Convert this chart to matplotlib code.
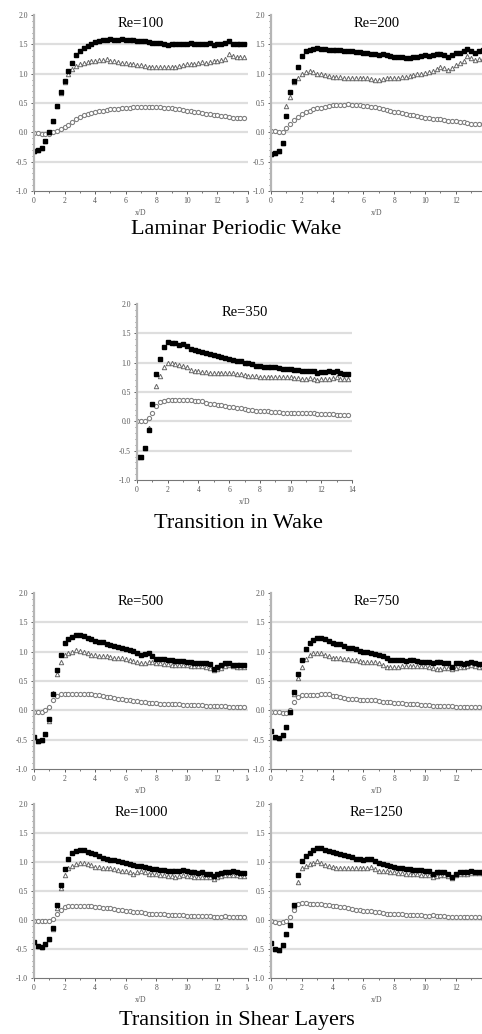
import numpy as np
import matplotlib
matplotlib.use("Agg")
import matplotlib.pyplot as plt
from matplotlib.ticker import MultipleLocator
from matplotlib.transforms import Bbox

plt.rcParams["font.family"] = ["Liberation Serif", "DejaVu Serif"]

# ---- データ（図から読み取り、x/D = 0, 0.25, ... 13.75） ----
x_d = np.arange(56) * 0.25

re100_black = [-0.31, -0.30, -0.26, -0.15, 0.00, 0.20, 0.45, 0.68, 0.88, 1.05, 1.19, 1.31, 1.39, 1.44,
               1.48, 1.51, 1.54, 1.56, 1.57, 1.58, 1.59, 1.58, 1.58, 1.59, 1.58, 1.58, 1.57, 1.56,
               1.56, 1.55, 1.54, 1.53, 1.53, 1.52, 1.51, 1.49, 1.50, 1.50, 1.51, 1.50, 1.51, 1.52,
               1.50, 1.51, 1.51, 1.50, 1.52, 1.49, 1.50, 1.51, 1.52, 1.56, 1.51, 1.50, 1.51, 1.51]
re100_tri = [-0.31, -0.30, -0.26, -0.15, 0.00, 0.20, 0.45, 0.67, 0.86, 0.99, 1.08, 1.13, 1.17, 1.18,
             1.20, 1.21, 1.22, 1.23, 1.24, 1.25, 1.22, 1.21, 1.20, 1.19, 1.18, 1.17, 1.16, 1.15,
             1.14, 1.13, 1.12, 1.12, 1.11, 1.11, 1.11, 1.12, 1.12, 1.12, 1.13, 1.15, 1.16, 1.17,
             1.17, 1.19, 1.20, 1.19, 1.20, 1.21, 1.22, 1.23, 1.25, 1.33, 1.30, 1.28, 1.28, 1.28]
re100_low = [-0.01, -0.01, -0.02, -0.02, -0.02, 0.00, 0.03, 0.06, 0.09, 0.13, 0.18, 0.22, 0.26, 0.29,
             0.32, 0.33, 0.35, 0.36, 0.37, 0.38, 0.39, 0.40, 0.40, 0.41, 0.42, 0.42, 0.43, 0.44,
             0.44, 0.44, 0.43, 0.43, 0.43, 0.43, 0.42, 0.41, 0.41, 0.40, 0.39, 0.38, 0.37, 0.36,
             0.35, 0.34, 0.33, 0.32, 0.31, 0.30, 0.29, 0.28, 0.28, 0.26, 0.25, 0.24, 0.25, 0.25]

re200_black = [-0.37, -0.36, -0.31, -0.18, 0.28, 0.68, 0.88, 1.12, 1.30, 1.39, 1.41, 1.42, 1.43, 1.42,
               1.42, 1.41, 1.41, 1.40, 1.40, 1.39, 1.39, 1.38, 1.37, 1.37, 1.36, 1.35, 1.34, 1.34,
               1.32, 1.33, 1.31, 1.30, 1.29, 1.28, 1.29, 1.27, 1.26, 1.28, 1.29, 1.30, 1.31, 1.30,
               1.32, 1.33, 1.34, 1.32, 1.28, 1.31, 1.35, 1.36, 1.38, 1.42, 1.39, 1.36, 1.39, 1.40]
re200_tri = [-0.37, -0.36, -0.31, -0.18, 0.45, 0.60, 0.86, 0.93, 1.00, 1.03, 1.04, 1.02, 1.00, 0.99,
             0.98, 0.96, 0.95, 0.94, 0.94, 0.93, 0.93, 0.93, 0.92, 0.92, 0.93, 0.92, 0.91, 0.90,
             0.89, 0.91, 0.92, 0.92, 0.93, 0.93, 0.94, 0.95, 0.96, 0.97, 0.99, 1.00, 1.01, 1.03,
             1.05, 1.08, 1.11, 1.09, 1.06, 1.10, 1.15, 1.18, 1.22, 1.30, 1.26, 1.24, 1.25, 1.26]
re200_low = [0.02, 0.02, 0.01, 0.00, 0.07, 0.14, 0.21, 0.26, 0.31, 0.34, 0.37, 0.39, 0.41, 0.42,
             0.44, 0.45, 0.46, 0.46, 0.47, 0.47, 0.48, 0.47, 0.47, 0.46, 0.45, 0.45, 0.44, 0.43,
             0.41, 0.40, 0.38, 0.37, 0.35, 0.34, 0.33, 0.31, 0.30, 0.29, 0.27, 0.26, 0.25, 0.24,
             0.23, 0.22, 0.22, 0.21, 0.20, 0.20, 0.19, 0.18, 0.17, 0.16, 0.15, 0.14, 0.15, 0.15]

re350_black = [-0.60, -0.60, -0.46, -0.15, 0.30, 0.80, 1.06, 1.27, 1.35, 1.34, 1.33, 1.30, 1.31, 1.28,
               1.24, 1.22, 1.20, 1.18, 1.17, 1.15, 1.13, 1.11, 1.10, 1.08, 1.06, 1.05, 1.03, 1.02,
               1.00, 0.99, 0.97, 0.95, 0.94, 0.93, 0.93, 0.92, 0.92, 0.91, 0.90, 0.90, 0.89, 0.88,
               0.87, 0.86, 0.86, 0.86, 0.85, 0.83, 0.84, 0.84, 0.85, 0.84, 0.85, 0.83, 0.81, 0.81]
re350_tri = [-0.60, -0.60, -0.46, -0.12, 0.30, 0.60, 0.78, 0.93, 1.00, 0.99, 0.98, 0.96, 0.94, 0.92,
             0.88, 0.86, 0.85, 0.84, 0.84, 0.83, 0.82, 0.82, 0.82, 0.83, 0.83, 0.82, 0.81, 0.80,
             0.79, 0.78, 0.77, 0.77, 0.76, 0.75, 0.75, 0.75, 0.75, 0.75, 0.75, 0.75, 0.75, 0.74,
             0.74, 0.73, 0.73, 0.74, 0.73, 0.71, 0.72, 0.73, 0.72, 0.74, 0.75, 0.73, 0.72, 0.72]
re350_low = [0.00, 0.00, 0.01, 0.06, 0.15, 0.26, 0.33, 0.35, 0.36, 0.36, 0.36, 0.36, 0.36, 0.36,
             0.36, 0.35, 0.35, 0.34, 0.32, 0.30, 0.29, 0.28, 0.27, 0.26, 0.25, 0.24, 0.23, 0.22,
             0.21, 0.20, 0.19, 0.18, 0.18, 0.17, 0.17, 0.16, 0.16, 0.16, 0.15, 0.15, 0.15, 0.15,
             0.15, 0.15, 0.15, 0.14, 0.14, 0.13, 0.13, 0.12, 0.12, 0.12, 0.11, 0.11, 0.11, 0.11]

re500_black = [-0.45, -0.52, -0.51, -0.40, -0.15, 0.28, 0.68, 0.95, 1.15, 1.21, 1.25, 1.29, 1.28, 1.26,
               1.24, 1.21, 1.19, 1.17, 1.16, 1.13, 1.11, 1.10, 1.08, 1.06, 1.05, 1.03, 1.01, 0.97,
               0.94, 0.96, 0.98, 0.92, 0.88, 0.87, 0.87, 0.85, 0.85, 0.84, 0.84, 0.84, 0.83, 0.82,
               0.81, 0.80, 0.81, 0.80, 0.79, 0.70, 0.74, 0.77, 0.80, 0.81, 0.77, 0.78, 0.77, 0.77]
re500_tri = [-0.45, -0.52, -0.51, -0.40, -0.19, 0.30, 0.62, 0.82, 0.94, 0.97, 1.00, 1.03, 1.01, 0.99,
             0.97, 0.95, 0.94, 0.93, 0.93, 0.92, 0.91, 0.90, 0.89, 0.89, 0.88, 0.86, 0.84, 0.82,
             0.80, 0.81, 0.83, 0.82, 0.81, 0.80, 0.79, 0.79, 0.78, 0.78, 0.77, 0.77, 0.77, 0.76,
             0.76, 0.75, 0.75, 0.74, 0.73, 0.68, 0.71, 0.73, 0.75, 0.77, 0.75, 0.74, 0.74, 0.74]
re500_low = [-0.02, -0.02, -0.02, 0.00, 0.06, 0.17, 0.25, 0.28, 0.28, 0.28, 0.28, 0.28, 0.28, 0.28,
             0.28, 0.27, 0.26, 0.26, 0.25, 0.23, 0.22, 0.21, 0.20, 0.19, 0.18, 0.17, 0.16, 0.16,
             0.15, 0.14, 0.13, 0.12, 0.12, 0.11, 0.11, 0.10, 0.10, 0.10, 0.10, 0.09, 0.09, 0.09,
             0.09, 0.09, 0.09, 0.08, 0.08, 0.08, 0.07, 0.07, 0.07, 0.06, 0.06, 0.05, 0.06, 0.06]

re750_black = [-0.36, -0.46, -0.47, -0.42, -0.29, -0.03, 0.32, 0.62, 0.86, 1.04, 1.14, 1.20, 1.23, 1.23,
               1.21, 1.18, 1.14, 1.13, 1.13, 1.10, 1.07, 1.06, 1.04, 1.01, 1.00, 0.99, 0.98, 0.96,
               0.94, 0.92, 0.89, 0.86, 0.86, 0.85, 0.85, 0.84, 0.86, 0.85, 0.84, 0.83, 0.83, 0.82,
               0.81, 0.82, 0.82, 0.81, 0.81, 0.74, 0.80, 0.80, 0.79, 0.81, 0.83, 0.81, 0.79, 0.79]
re750_tri = [-0.36, -0.46, -0.47, -0.42, -0.29, -0.03, 0.28, 0.55, 0.74, 0.88, 0.94, 0.97, 0.98, 0.97,
             0.94, 0.92, 0.90, 0.89, 0.89, 0.88, 0.87, 0.86, 0.85, 0.84, 0.83, 0.83, 0.82, 0.82,
             0.81, 0.78, 0.74, 0.74, 0.74, 0.74, 0.75, 0.75, 0.75, 0.76, 0.75, 0.75, 0.75, 0.74,
             0.72, 0.71, 0.71, 0.73, 0.72, 0.70, 0.73, 0.74, 0.74, 0.76, 0.77, 0.75, 0.74, 0.74]
re750_low = [-0.02, -0.03, -0.03, -0.04, -0.04, 0.01, 0.14, 0.22, 0.26, 0.26, 0.26, 0.26, 0.26, 0.27,
             0.28, 0.27, 0.24, 0.24, 0.23, 0.21, 0.20, 0.20, 0.19, 0.18, 0.18, 0.17, 0.17, 0.17,
             0.16, 0.15, 0.14, 0.14, 0.13, 0.12, 0.12, 0.11, 0.11, 0.10, 0.10, 0.09, 0.09, 0.09,
             0.08, 0.08, 0.07, 0.07, 0.07, 0.07, 0.06, 0.06, 0.05, 0.05, 0.05, 0.05, 0.06, 0.06]

re1000_black = [-0.38, -0.44, -0.46, -0.41, -0.32, -0.14, 0.26, 0.60, 0.88, 1.06, 1.15, 1.19, 1.21, 1.21,
                1.18, 1.16, 1.13, 1.10, 1.07, 1.05, 1.04, 1.03, 1.02, 1.00, 0.99, 0.97, 0.95, 0.93,
                0.93, 0.92, 0.89, 0.88, 0.88, 0.87, 0.87, 0.85, 0.85, 0.84, 0.85, 0.86, 0.84, 0.83,
                0.82, 0.81, 0.82, 0.80, 0.80, 0.76, 0.79, 0.81, 0.82, 0.83, 0.84, 0.82, 0.81, 0.81]
re1000_tri = [-0.38, -0.44, -0.46, -0.41, -0.32, -0.16, 0.20, 0.55, 0.78, 0.89, 0.93, 0.96, 0.98, 0.98,
              0.96, 0.94, 0.92, 0.91, 0.90, 0.89, 0.89, 0.88, 0.87, 0.85, 0.84, 0.82, 0.80, 0.83,
              0.84, 0.82, 0.80, 0.79, 0.79, 0.78, 0.77, 0.76, 0.76, 0.75, 0.76, 0.78, 0.76, 0.76,
              0.75, 0.74, 0.75, 0.75, 0.74, 0.71, 0.74, 0.76, 0.77, 0.78, 0.78, 0.77, 0.76, 0.76]
re1000_low = [-0.02, -0.02, -0.02, -0.02, -0.02, 0.01, 0.10, 0.18, 0.22, 0.24, 0.25, 0.25, 0.25, 0.24,
              0.24, 0.24, 0.23, 0.22, 0.21, 0.21, 0.20, 0.19, 0.18, 0.17, 0.16, 0.15, 0.14, 0.14,
              0.13, 0.12, 0.11, 0.11, 0.10, 0.10, 0.10, 0.09, 0.09, 0.09, 0.08, 0.08, 0.07, 0.07,
              0.07, 0.07, 0.07, 0.07, 0.07, 0.06, 0.06, 0.06, 0.07, 0.06, 0.05, 0.05, 0.05, 0.05]

re1250_black = [-0.40, -0.50, -0.52, -0.43, -0.24, -0.08, 0.26, 0.78, 1.01, 1.10, 1.15, 1.21, 1.25, 1.24,
                1.21, 1.19, 1.18, 1.16, 1.14, 1.12, 1.10, 1.08, 1.06, 1.05, 1.04, 1.05, 1.05, 1.02,
                0.98, 0.96, 0.95, 0.93, 0.91, 0.90, 0.89, 0.88, 0.88, 0.87, 0.86, 0.86, 0.85, 0.84,
                0.80, 0.82, 0.83, 0.82, 0.80, 0.75, 0.80, 0.82, 0.83, 0.83, 0.84, 0.83, 0.82, 0.82]
re1250_tri = [-0.40, -0.50, -0.52, -0.43, -0.24, -0.08, 0.24, 0.65, 0.89, 0.93, 0.97, 0.99, 1.01, 0.98,
              0.95, 0.93, 0.91, 0.90, 0.90, 0.89, 0.89, 0.89, 0.89, 0.89, 0.89, 0.90, 0.91, 0.88,
              0.85, 0.84, 0.84, 0.83, 0.82, 0.81, 0.81, 0.80, 0.80, 0.79, 0.79, 0.78, 0.78, 0.77,
              0.74, 0.76, 0.78, 0.77, 0.76, 0.72, 0.77, 0.79, 0.80, 0.80, 0.81, 0.81, 0.81, 0.81]
re1250_low = [-0.02, -0.03, -0.05, -0.04, -0.02, 0.05, 0.17, 0.27, 0.29, 0.29, 0.28, 0.28, 0.27, 0.27,
              0.26, 0.26, 0.25, 0.24, 0.23, 0.22, 0.20, 0.19, 0.18, 0.17, 0.16, 0.16, 0.15, 0.14,
              0.13, 0.12, 0.11, 0.11, 0.10, 0.10, 0.10, 0.09, 0.09, 0.09, 0.08, 0.08, 0.07, 0.07,
              0.08, 0.07, 0.07, 0.07, 0.06, 0.06, 0.06, 0.06, 0.06, 0.05, 0.05, 0.05, 0.05, 0.04]

# ---- レイアウト（ピクセル: 左端, 右端, 上端(2.0), 下端(-1.0), xの最大値） ----
W, H = 482, 1034
panels = [
    ("Re=100", re100_black, re100_tri, re100_low, (34, 248, 15, 191, 14.0)),
    ("Re=200", re200_black, re200_tri, re200_low, (271, 482, 15, 191, 13.7)),
    ("Re=350", re350_black, re350_tri, re350_low, (137, 352, 304, 480, 14.0)),
    ("Re=500", re500_black, re500_tri, re500_low, (34, 248, 593, 769, 14.0)),
    ("Re=750", re750_black, re750_tri, re750_low, (271, 482, 593, 769, 13.7)),
    ("Re=1000", re1000_black, re1000_tri, re1000_low, (34, 248, 804, 978, 14.0)),
    ("Re=1250", re1250_black, re1250_tri, re1250_low, (271, 482, 804, 978, 13.7)),
]

fig = plt.figure(figsize=(W / 100, H / 100), dpi=100)
clip_left = Bbox.from_extents(0, 0, 248.5, H)  # 左列の「14」は右パネルに隠れて「1」だけ見える

for title, blk, tri, low, (x0, x1, yt, yb, xmax) in panels:
    ax = fig.add_axes([x0 / W, (H - yb) / H, (x1 - x0) / W, (yb - yt) / H])
    ax.set_xlim(0, xmax)
    ax.set_ylim(-1.0, 2.0)
    for g in [-0.5, 0.0, 0.5, 1.0, 1.5]:
        ax.axhline(g, color="#dedede", lw=1.6, zorder=0)

    ax.plot(x_d, low, ls="none", marker="o", ms=3.0, mfc="white", mec="#808080", mew=0.8)
    ax.plot(x_d, tri, ls="none", marker="^", ms=3.2, mfc="white", mec="#666666", mew=0.7)
    ax.plot(x_d, blk, ls="none", marker="s", ms=2.3, color="black")

    ax.text(0.5, 0.99, title, transform=ax.transAxes, ha="center", va="top", fontsize=10.5)

    for s in ["top", "right"]:
        ax.spines[s].set_visible(False)
    ax.spines["left"].set_color("#b5b5b5")
    ax.spines["left"].set_linewidth(1.6)
    ax.spines["bottom"].set_color("#777777")
    ax.spines["bottom"].set_linewidth(0.8)

    if xmax < 13.9:
        ax.set_xticks(range(0, 13, 2))
    else:
        ax.set_xticks(range(0, 15, 2))
    ax.xaxis.set_minor_locator(MultipleLocator(1))
    ax.set_yticks([-1.0, -0.5, 0.0, 0.5, 1.0, 1.5, 2.0])
    ax.set_yticklabels(["-1.0", "-0.5", "0.0", "0.5", "1.0", "1.5", "2.0"])
    ax.yaxis.set_minor_locator(MultipleLocator(0.1))
    ax.tick_params(which="major", length=2.5, width=0.6, color="#444444",
                   labelsize=5.5, labelcolor="#555555", pad=2)
    ax.tick_params(which="minor", length=1.5, width=0.5, color="#444444")
    ax.set_xlabel("x/D", fontsize=5.5, color="#555555", labelpad=3)

    if x0 < 40:
        for t in ax.xaxis.get_major_ticks():
            t.label1.set_clip_box(clip_left)
            t.label1.set_clip_on(True)

fig.text(236 / W, 1 - 229 / H, "Laminar Periodic Wake", ha="center", va="center", fontsize=16)
fig.text(238 / W, 1 - 523 / H, "Transition in Wake", ha="center", va="center", fontsize=16)
fig.text(237 / W, 1 - 1020 / H, "Transition in Shear Layers", ha="center", va="center", fontsize=16)

fig.savefig("out.png", dpi=100)
